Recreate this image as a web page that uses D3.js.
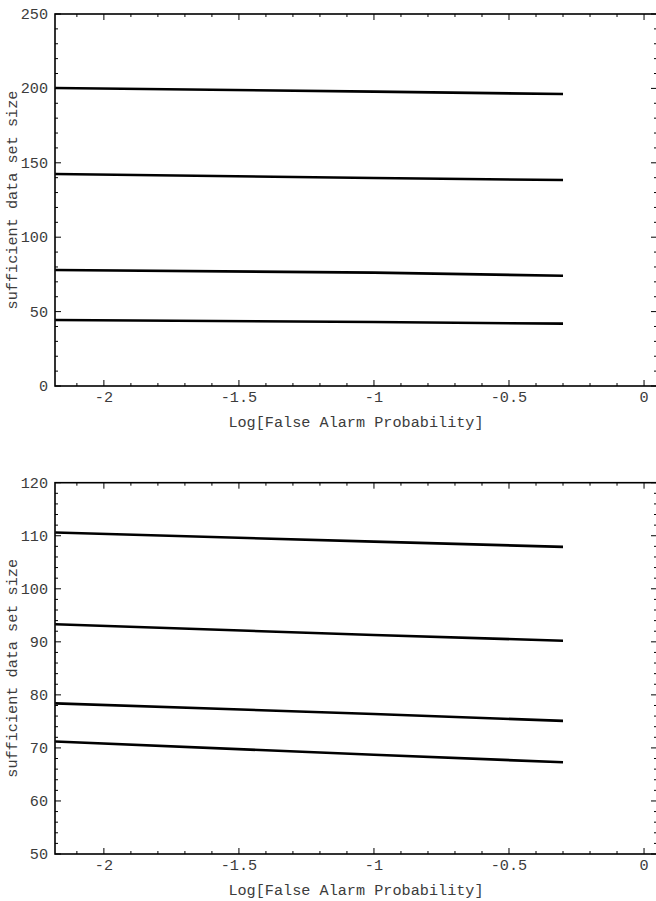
<!DOCTYPE html>
<html>
<head>
<meta charset="utf-8">
<script src="https://cdn.jsdelivr.net/npm/d3@7"></script>
<style>
  html, body { margin: 0; padding: 0; background: #fff; }
  svg { display: block; }
  text { font-family: "Liberation Mono", "DejaVu Sans Mono", monospace; fill: #3c3c3c; }
</style>
</head>
<body>
<svg id="chart" width="656" height="901"></svg>
<script>
// Log10 of the false alarm probability at which each curve is sampled
const logPfa = [-2.18, -1, -0.3];

// Upper panel: sufficient data set size for four configurations
const topSeries = [
  [200.3, 197.8, 196.2],
  [142.5, 139.8, 138.4],
  [78.0, 76.2, 74.1],
  [44.4, 43.0, 41.9]
];

// Lower panel: sufficient data set size for four configurations
const bottomSeries = [
  [110.6, 108.9, 107.9],
  [93.3, 91.3, 90.2],
  [78.4, 76.4, 75.1],
  [71.2, 68.7, 67.3]
];

// Axis ranges and ticks
const xDomain = [-2.181, 0.048];
const xMajorTicks = [-2, -1.5, -1, -0.5, 0];
const xTickLabels = ["-2", "-1.5", "-1", "-0.5", "0"];
const xMinorStep = 0.1;

const topYDomain = [0, 250];
const topYMajor = [0, 50, 100, 150, 200, 250];
const topYMinorStep = 10;

const bottomYDomain = [50, 120];
const bottomYMajor = [50, 60, 70, 80, 90, 100, 110, 120];
const bottomYMinorStep = 2;

const xTitle = "Log[False Alarm Probability]";
const yTitle = "sufficient data set size";

const fontSize = 15.2;
const svg = d3.select("#chart");

function range(a, b, step) {
  const out = [];
  const n = Math.round((b - a) / step);
  for (let i = 0; i <= n; i++) out.push(+(a + i * step).toFixed(6));
  return out;
}

function drawPanel(cfg) {
  const { top, bottom, left, right, yDomain, yMajor, yMinorStep, series } = cfg;
  const x = d3.scaleLinear().domain(xDomain).range([left, right]);
  const y = d3.scaleLinear().domain(yDomain).range([bottom, top]);
  const g = svg.append("g");

  const xMinor = range(-3, 1, xMinorStep).filter(v => v > xDomain[0] && v < xDomain[1] && !xMajorTicks.some(m => Math.abs(m - v) < 1e-6));
  const yMinor = range(yDomain[0], yDomain[1], yMinorStep).filter(v => !yMajor.some(m => Math.abs(m - v) < 1e-6));

  const majorLen = 6, minorLen = 3;

  // Inward ticks on all four sides
  const tickG = g.append("g").attr("stroke", "#000").attr("stroke-width", 1);
  xMajorTicks.forEach(v => {
    tickG.append("line").attr("x1", x(v)).attr("x2", x(v)).attr("y1", y(yDomain[0])).attr("y2", y(yDomain[0]) - majorLen);
    tickG.append("line").attr("x1", x(v)).attr("x2", x(v)).attr("y1", y(yDomain[1])).attr("y2", y(yDomain[1]) + majorLen);
  });
  xMinor.forEach(v => {
    tickG.append("line").attr("x1", x(v)).attr("x2", x(v)).attr("y1", y(yDomain[0])).attr("y2", y(yDomain[0]) - minorLen);
    tickG.append("line").attr("x1", x(v)).attr("x2", x(v)).attr("y1", y(yDomain[1])).attr("y2", y(yDomain[1]) + minorLen);
  });
  yMajor.forEach(v => {
    tickG.append("line").attr("x1", x(xDomain[0])).attr("x2", x(xDomain[0]) + majorLen).attr("y1", y(v)).attr("y2", y(v));
    tickG.append("line").attr("x1", x(xDomain[1])).attr("x2", x(xDomain[1]) - majorLen).attr("y1", y(v)).attr("y2", y(v));
  });
  yMinor.forEach(v => {
    tickG.append("line").attr("x1", x(xDomain[0])).attr("x2", x(xDomain[0]) + minorLen).attr("y1", y(v)).attr("y2", y(v));
    tickG.append("line").attr("x1", x(xDomain[1])).attr("x2", x(xDomain[1]) - minorLen).attr("y1", y(v)).attr("y2", y(v));
  });

  // Frame
  g.append("rect")
    .attr("x", x(xDomain[0])).attr("y", y(yDomain[1]))
    .attr("width", x(xDomain[1]) - x(xDomain[0]))
    .attr("height", y(yDomain[0]) - y(yDomain[1]))
    .attr("fill", "none").attr("stroke", "#000").attr("stroke-width", 1.6);

  // Tick labels
  g.selectAll(".xl").data(xMajorTicks).enter().append("text")
    .attr("x", d => x(d)).attr("y", y(yDomain[0]) + 16)
    .attr("text-anchor", "middle").attr("font-size", fontSize)
    .text((d, i) => xTickLabels[i]);
  g.selectAll(".yl").data(yMajor).enter().append("text")
    .attr("x", x(xDomain[0]) - 7).attr("y", d => y(d) + 5)
    .attr("text-anchor", "end").attr("font-size", fontSize)
    .text(d => d);

  // Axis titles
  g.append("text")
    .attr("x", (left + right) / 2).attr("y", y(yDomain[0]) + 41)
    .attr("text-anchor", "middle").attr("font-size", fontSize)
    .text(xTitle);
  g.append("text")
    .attr("transform", `translate(17, ${(top + bottom) / 2}) rotate(-90)`)
    .attr("text-anchor", "middle").attr("font-size", fontSize)
    .text(yTitle);

  // Curves
  const line = d3.line().x((d, i) => x(logPfa[i])).y(d => y(d));
  g.append("g").selectAll("path").data(series).enter().append("path")
    .attr("d", line)
    .attr("fill", "none").attr("stroke", "#000")
    .attr("stroke-width", 2.6).attr("stroke-linecap", "butt");
}

drawPanel({ top: 14, bottom: 386, left: 55, right: 657, yDomain: topYDomain, yMajor: topYMajor, yMinorStep: topYMinorStep, series: topSeries });
drawPanel({ top: 482.7, bottom: 854, left: 55, right: 657, yDomain: bottomYDomain, yMajor: bottomYMajor, yMinorStep: bottomYMinorStep, series: bottomSeries });
</script>
</body>
</html>
